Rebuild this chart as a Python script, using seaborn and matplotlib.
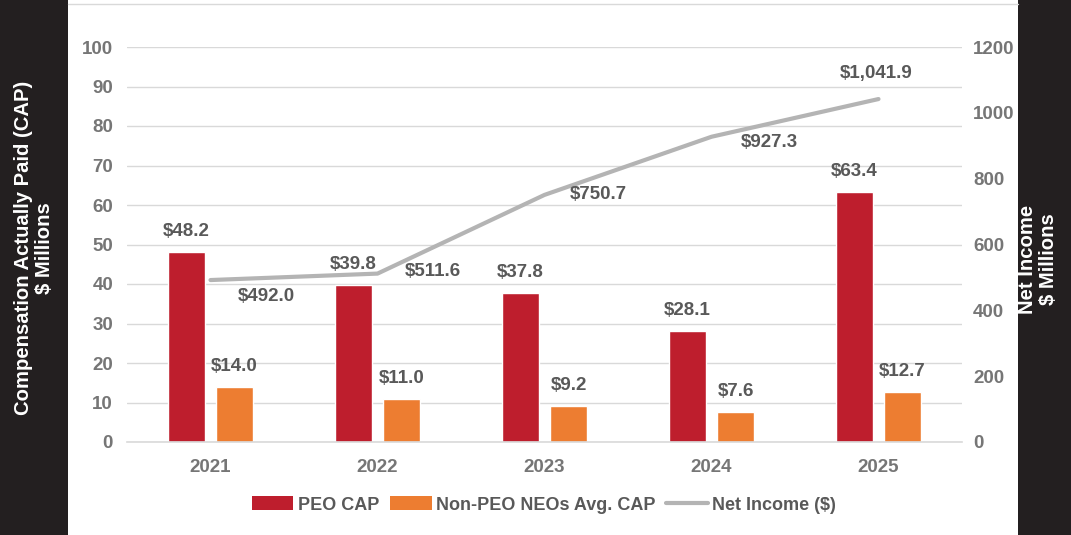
import numpy as np
import pandas as pd
import matplotlib
matplotlib.use("Agg")
import matplotlib.pyplot as plt
from matplotlib.lines import Line2D
from matplotlib.patches import Rectangle, Patch
import seaborn as sns

# ---- data ----
years = ["2021", "2022", "2023", "2024", "2025"]
peo_cap = [48.2, 39.8, 37.8, 28.1, 63.4]
non_peo_cap = [14.0, 11.0, 9.2, 7.6, 12.7]
net_income = [492.0, 511.6, 750.7, 927.3, 1041.9]
series_names = ["PEO CAP", "Non-PEO NEOs Avg. CAP"]
line_name = "Net Income ($)"
left_ticks = list(range(0, 101, 10))
right_ticks = list(range(0, 1201, 200))

# ---- style ----
RED = "#BE1E2D"
ORANGE = "#ED7D31"
LINE = "#B4B4B4"
GRID = "#D9D9D9"
TXT = "#595959"
TICK = "#767676"
BAND = "#231F20"
FS = 13.5

sns.set_theme(style="white")
plt.rcParams["font.family"] = ["Liberation Sans", "DejaVu Sans"]
plt.rcParams["font.weight"] = "bold"

df = pd.DataFrame({
    "year": years * 2,
    "series": [series_names[0]] * len(years) + [series_names[1]] * len(years),
    "value": peo_cap + non_peo_cap,
})

fig = plt.figure(figsize=(10.71, 5.35), dpi=100)
fig.patch.set_facecolor("white")
ax = fig.add_axes([127 / 1071, 1 - 442 / 535, (962 - 127) / 1071, (442 - 47) / 535])

sns.barplot(data=df, x="year", y="value", hue="series", order=years,
            hue_order=series_names, palette=[RED, ORANGE],
            width=0.576, gap=0.24, saturation=1, ax=ax, legend=False,
            errorbar=None)

ax.set_xlim(-0.5, len(years) - 0.5)
ax.set_ylim(0, 100)
ax.set_yticks(left_ticks)
ax.set_xlabel("")
ax.set_ylabel("")
ax.grid(axis="y", color=GRID, lw=1)
ax.set_axisbelow(True)
for s in ["top", "right", "left"]:
    ax.spines[s].set_visible(False)
ax.spines["bottom"].set_color(GRID)
ax.spines["bottom"].set_linewidth(1.2)
ax.tick_params(axis="y", length=0, pad=10, labelsize=FS, labelcolor=TICK)
ax.tick_params(axis="x", length=0, pad=12, labelsize=FS, labelcolor=TICK)
ax.set_xticks(np.arange(len(years) - 1) + 0.5, minor=True)
ax.tick_params(axis="x", which="minor", length=5, color=GRID, width=1)
for lab in ax.get_xticklabels() + ax.get_yticklabels():
    lab.set_fontweight("bold")

# bar labels
for container, vals in zip(ax.containers, [peo_cap, non_peo_cap]):
    for rect, v in zip(container, vals):
        ax.annotate(f"${v:.1f}", (rect.get_x() + rect.get_width() / 2, v),
                    xytext=(0, 14.5), textcoords="offset points",
                    ha="center", va="center", fontsize=FS,
                    fontweight="bold", color=TXT)

# line on secondary axis
ax2 = ax.twinx()
xpos = np.arange(len(years))
sns.lineplot(x=xpos, y=net_income, ax=ax2, color=LINE, lw=3, legend=False)
ax2.set_ylim(0, 1200)
ax2.set_yticks(right_ticks)
ax2.set_xlim(-0.5, len(years) - 0.5)
for s in ["top", "right", "left", "bottom"]:
    ax2.spines[s].set_visible(False)
ax2.tick_params(axis="y", length=0, pad=8, labelsize=FS, labelcolor=TICK)
for lab in ax2.get_yticklabels():
    lab.set_fontweight("bold")
ax2.set_ylabel("")

line_offsets = [(40, -11.5), (40, 1.5), (39, 0), (42, -4.3), (-2, 18.7)]
for x, v, off in zip(xpos, net_income, line_offsets):
    ax2.annotate(f"${v:,.1f}", (x, v), xytext=off, textcoords="offset points",
                 ha="center", va="center", fontsize=FS,
                 fontweight="bold", color=TXT)

# legend
handles = [Patch(facecolor=RED, edgecolor="none"),
           Patch(facecolor=ORANGE, edgecolor="none"),
           Line2D([0], [0], color=LINE, lw=3)]
leg = fig.legend(handles, series_names + [line_name], loc="center",
                 bbox_to_anchor=(544 / 1071, 1 - 505 / 535), ncol=3,
                 frameon=False, fontsize=13, handlelength=2.3,
                 handleheight=0.8, handletextpad=0.25, columnspacing=0.6)
for t in leg.get_texts():
    t.set_color(TXT)
    t.set_fontweight("bold")

# side bands
fig.add_artist(Rectangle((0, 0), 68 / 1071, 1, transform=fig.transFigure,
                         facecolor=BAND, edgecolor="none", zorder=0))
fig.add_artist(Rectangle((1018 / 1071, 0), 53 / 1071, 1, transform=fig.transFigure,
                         facecolor=BAND, edgecolor="none", zorder=0))
fig.add_artist(Line2D([68 / 1071, 1018 / 1071], [1 - 4 / 535, 1 - 4 / 535],
                      transform=fig.transFigure, color=GRID, lw=1))
fig.text(34 / 1071, 1 - 248 / 535, "Compensation Actually Paid (CAP)\n$ Millions",
         rotation=90, ha="center", va="center", color="white", fontsize=14.6,
         fontweight="bold", linespacing=1.15, multialignment="center")
fig.text(1038 / 1071, 1 - 259 / 535, "Net Income\n$ Millions",
         rotation=90, ha="center", va="center", color="white", fontsize=14.6,
         fontweight="bold", linespacing=1.15, multialignment="center")

fig.savefig("out.png", dpi=100)
